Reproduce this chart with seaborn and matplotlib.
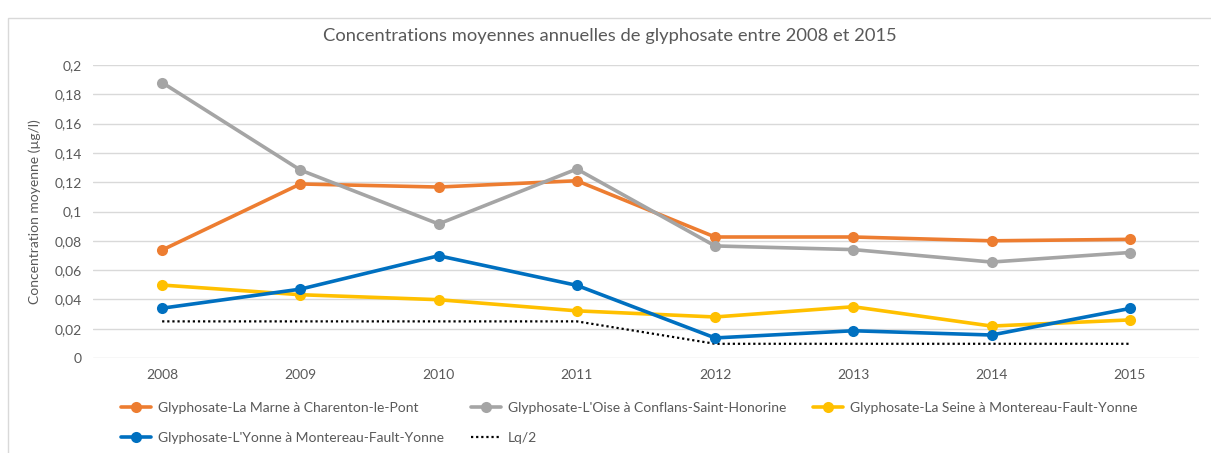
import seaborn as sns
import pandas as pd
import matplotlib.pyplot as plt
from matplotlib.ticker import FuncFormatter, MultipleLocator
from matplotlib.patches import Rectangle

years = ["2008", "2009", "2010", "2011", "2012", "2013", "2014", "2015"]
marne = [0.0737, 0.1188, 0.1167, 0.1210, 0.0826, 0.0826, 0.0800, 0.0810]
oise = [0.1880, 0.1283, 0.0915, 0.1290, 0.0765, 0.0740, 0.0655, 0.0720]
seine = [0.0498, 0.0432, 0.0398, 0.0322, 0.0280, 0.0350, 0.0218, 0.0260]
yonne = [0.0340, 0.0470, 0.0698, 0.0496, 0.0137, 0.0186, 0.0157, 0.0338]
lq2 = [0.025, 0.025, 0.025, 0.025, 0.0097, 0.0097, 0.0097, 0.0097]

series_names = [
    "Glyphosate-La Marne à Charenton-le-Pont",
    "Glyphosate-L'Oise à Conflans-Saint-Honorine",
    "Glyphosate-La Seine à Montereau-Fault-Yonne",
    "Glyphosate-L'Yonne à Montereau-Fault-Yonne",
]
series_values = [marne, oise, seine, yonne]
colors = ["#ED7D31", "#A5A5A5", "#FFC000", "#0070C0"]

df = pd.DataFrame(
    [(y, n, v) for n, vals in zip(series_names, series_values) for y, v in zip(years, vals)],
    columns=["annee", "serie", "valeur"],
)
lq_df = pd.DataFrame({"annee": years, "valeur": lq2})

sns.set_style("white")
plt.rcParams["font.family"] = ["Lato", "DejaVu Sans"]

fig = plt.figure(figsize=(12.11, 4.53), dpi=100)
ax = fig.add_axes([0.0768, 0.2097, 0.9132, 0.6468])

sns.lineplot(data=lq_df, x="annee", y="valeur", color="black", linestyle=(0, (1, 1.3)),
             linewidth=1.6, ax=ax, label="Lq/2", zorder=2)
sns.lineplot(data=df, x="annee", y="valeur", hue="serie", hue_order=series_names,
             palette=colors, marker="o", markersize=8, markeredgewidth=0,
             linewidth=2.6, ax=ax, zorder=3)

ax.set_xlim(-0.5, len(years) - 0.5)
ax.set_ylim(0, 0.2)
ax.yaxis.set_major_locator(MultipleLocator(0.02))
ax.yaxis.set_major_formatter(FuncFormatter(
    lambda v, _: "0" if abs(v) < 1e-9 else f"{v:.2f}".rstrip("0").replace(".", ",")))
ax.grid(axis="y", color="#D9D9D9", linewidth=1)
ax.set_axisbelow(True)
for s in ax.spines.values():
    s.set_visible(False)
ax.tick_params(axis="both", length=0, labelsize=10, colors="#595959", pad=8)
ax.set_xlabel("")
ax.set_ylabel("Concentration moyenne (µg/l)", fontsize=10, color="#595959", labelpad=10)
ax.set_title("Concentrations moyennes annuelles de glyphosate entre 2008 et 2015",
             fontsize=13.2, color="#595959", pad=17, x=0.4675)

handles, labels = ax.get_legend_handles_labels()
h = dict(zip(labels, handles))
order = [series_names[0], series_names[3], series_names[1], "Lq/2", series_names[2]]
ax.legend([h[k] for k in order], order, ncol=3, loc="upper left",
          bbox_to_anchor=(0.02, -0.13), frameon=False, fontsize=10,
          labelcolor="#595959", handlelength=2.2, columnspacing=1.9,
          handletextpad=0.5, borderaxespad=0, labelspacing=1.3)

fig.patches.append(Rectangle((8 / 1211, -0.01), 1.05, 1 - 18 / 453 + 0.01,
                             transform=fig.transFigure, fill=False,
                             edgecolor="#D9D9D9", linewidth=1))

plt.savefig("out.png", dpi=100)
